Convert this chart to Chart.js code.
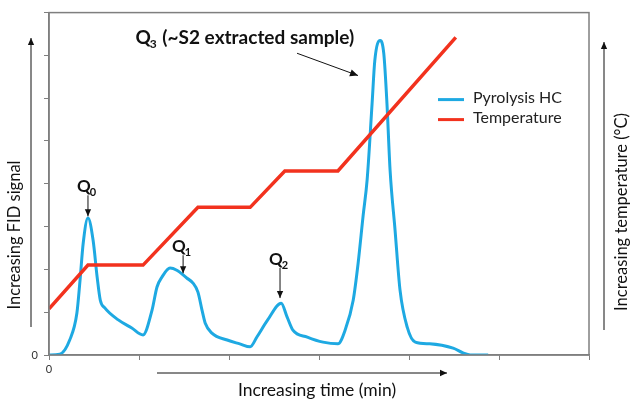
<!DOCTYPE html>
<html>
<head>
<meta charset="utf-8">
<script src="https://cdn.jsdelivr.net/npm/chart.js@4.4.1/dist/chart.umd.min.js"></script>
<style>
  body { margin: 0; background: #fff; }
</style>
</head>
<body>
<canvas id="myChart" width="630" height="400"></canvas>
<script>
// time axis (min) and relative signal
const pyroTime = [0, 1.2, 2.3, 3.1, 3.45, 3.8, 4.33, 4.9, 5.35, 5.7, 6.2, 7.7, 9.2, 10.45,
  11.45, 12.0, 12.55, 13.45, 14.2, 15.3, 16.0, 16.55, 17.0, 17.35, 18.1, 19.8, 21.2, 22.35,
  23.1, 24.3, 25.8, 26.45, 27.1, 28.7, 30.45, 32.1, 32.9, 33.8, 34.35, 34.9, 35.35, 35.9,
  36.2, 36.8, 37.2, 37.55, 37.9, 38.45, 39.0, 39.8, 40.7, 42.3, 44.9, 46.0, 46.8, 48.8];
const pyroSignal = [0, 0.02, 0.35, 0.98, 1.75, 2.61, 3.2, 2.68, 1.82, 1.28, 1.1, 0.82, 0.63, 0.47,
  1.05, 1.59, 1.82, 2.03, 1.98, 1.8, 1.68, 1.47, 1.05, 0.75, 0.51, 0.35, 0.26, 0.19,
  0.42, 0.82, 1.21, 0.89, 0.58, 0.42, 0.3, 0.26, 0.58, 1.28, 2.15, 3.25, 4.1, 5.88,
  6.88, 7.35, 7.04, 5.88, 4.31, 2.92, 1.52, 0.65, 0.3, 0.26, 0.16, 0.05, 0, 0];

const tempTime = [0, 4.33, 10.45, 16.55, 22.35, 26.2, 32.1, 45.2];
const tempValue = [1.08, 2.1, 2.1, 3.45, 3.45, 4.3, 4.3, 7.42];

const xTicks = [0, 10, 20, 30, 40, 50, 60];
const yTicks = [0, 1, 2, 3, 4, 5, 6, 7, 8];

const BLUE = "#1ea9e2";
const RED = "#f2321e";
const GREY = "#7f7f7f";
const FONT = "Lato, 'Liberation Sans', sans-serif";

function toPoints(xs, ys) {
  return xs.map((x, i) => ({ x: x, y: ys[i] }));
}

function arrow(c, x1, y1, x2, y2, head) {
  c.beginPath();
  c.moveTo(x1, y1);
  c.lineTo(x2, y2);
  c.stroke();
  const a = Math.atan2(y2 - y1, x2 - x1);
  c.beginPath();
  c.moveTo(x2, y2);
  c.lineTo(x2 - head * Math.cos(a) + head * 0.45 * Math.sin(a), y2 - head * Math.sin(a) - head * 0.45 * Math.cos(a));
  c.lineTo(x2 - head * Math.cos(a) - head * 0.45 * Math.sin(a), y2 - head * Math.sin(a) + head * 0.45 * Math.cos(a));
  c.closePath();
  c.fill();
}

function qLabel(c, x, y, sub, size) {
  c.font = "bold " + size + "px " + FONT;
  c.textAlign = "left";
  c.textBaseline = "alphabetic";
  c.fillText("Q", x, y);
  const w = c.measureText("Q").width;
  c.font = "bold " + Math.round(size * 0.65) + "px " + FONT;
  c.fillText(sub, x + w - 1, y + 4);
  return w + c.measureText(sub).width;
}

// peaks the labels point at, in data units
const notes = [
  { sub: "0", x: 4.33, y: 3.24, len: 21 },
  { sub: "1", x: 14.9, y: 1.91, len: 18 },
  { sub: "2", x: 25.67, y: 1.33, len: 30 }
];

const extras = {
  id: "extras",
  afterDraw(chart) {
    const c = chart.ctx;
    const a = chart.chartArea;
    const xs = chart.scales.x;
    const ys = chart.scales.y;
    c.save();

    // frame
    c.strokeStyle = GREY;
    c.lineWidth = 1.5;
    c.strokeRect(a.left, a.top, a.right - a.left, a.bottom - a.top);

    c.fillStyle = "#111";
    c.strokeStyle = "#111";
    c.lineWidth = 1;

    notes.forEach((n) => {
      const px = xs.getPixelForValue(n.x);
      const py = ys.getPixelForValue(n.y);
      arrow(c, px, py - n.len, px, py, 7);
      qLabel(c, px - 11, py - n.len - 3, n.sub, 17);
    });

    // Q3 label and arrow
    const tx = xs.getPixelForValue(9.6);
    const ty = ys.getPixelForValue(7.27);
    const w = qLabel(c, tx, ty, "3", 19);
    c.font = "bold 19px " + FONT;
    c.fillText(" (~S2 extracted sample)", tx + w, ty);
    arrow(c, xs.getPixelForValue(27.56), ys.getPixelForValue(7.05),
      xs.getPixelForValue(34.33), ys.getPixelForValue(6.53), 8);

    // legend
    const lx = a.left + 389;
    const ly = a.top + 87;
    c.lineWidth = 3;
    c.strokeStyle = BLUE;
    c.beginPath(); c.moveTo(lx, ly); c.lineTo(lx + 26, ly); c.stroke();
    c.strokeStyle = RED;
    c.beginPath(); c.moveTo(lx, ly + 20); c.lineTo(lx + 26, ly + 20); c.stroke();
    c.fillStyle = "#222";
    c.font = "16px " + FONT;
    c.textBaseline = "middle";
    c.fillText("Pyrolysis HC", lx + 35, ly - 2);
    c.fillText("Temperature", lx + 35, ly + 18);

    // axis arrows
    c.fillStyle = "#111";
    c.strokeStyle = "#111";
    c.lineWidth = 1;
    arrow(c, 31, 327, 31, 38, 7);
    arrow(c, 604, 330, 604, 42, 7);
    arrow(c, 157, 373, 447, 373, 7);

    // axis titles
    c.fillStyle = "#111";
    c.textAlign = "center";
    c.textBaseline = "middle";
    c.font = "17.5px " + FONT;
    c.fillText("Increasing time (min)", 317, 390);
    c.font = "16.5px " + FONT;
    c.save();
    c.translate(15, 235);
    c.rotate(-Math.PI / 2);
    c.fillText("Increasing FID signal", 0, 0);
    c.restore();
    c.save();
    c.translate(622, 212);
    c.rotate(-Math.PI / 2);
    c.fillText("Increasing temperature (\u00B0C)", 0, 0);
    c.restore();

    c.restore();
  }
};

new Chart(document.getElementById("myChart"), {
  type: "line",
  data: {
    datasets: [
      {
        label: "Pyrolysis HC",
        data: toPoints(pyroTime, pyroSignal),
        borderColor: BLUE,
        borderWidth: 3,
        pointRadius: 0,
        cubicInterpolationMode: "monotone",
        order: 2
      },
      {
        label: "Temperature",
        data: toPoints(tempTime, tempValue),
        borderColor: RED,
        borderWidth: 3.5,
        pointRadius: 0,
        tension: 0,
        order: 1
      }
    ]
  },
  plugins: [extras],
  options: {
    responsive: false,
    animation: false,
    layout: { padding: { left: 0, top: 12, right: 41, bottom: 0 } },
    plugins: {
      legend: { display: false },
      tooltip: { enabled: false }
    },
    scales: {
      x: {
        type: "linear",
        min: 0,
        max: 60,
        afterBuildTicks: (s) => { s.ticks = xTicks.map((v) => ({ value: v })); },
        afterFit: (s) => { s.height = 45; },
        ticks: {
          callback: (v) => (v === 0 ? "0" : ""),
          font: { size: 11, family: FONT },
          color: "#333",
          padding: 3,
          maxRotation: 0
        },
        grid: { drawOnChartArea: false, drawTicks: true, tickLength: 5, color: GREY },
        border: { color: GREY, width: 1.5 }
      },
      y: {
        min: 0,
        max: 8,
        afterBuildTicks: (s) => { s.ticks = yTicks.map((v) => ({ value: v })); },
        afterFit: (s) => { s.width = 49; },
        ticks: {
          callback: (v) => (v === 0 ? "0" : ""),
          font: { size: 11, family: FONT },
          color: "#333",
          padding: 6
        },
        grid: { drawOnChartArea: false, drawTicks: true, tickLength: 5, color: GREY },
        border: { color: GREY, width: 1.5 }
      }
    }
  }
});
</script>
</body>
</html>
